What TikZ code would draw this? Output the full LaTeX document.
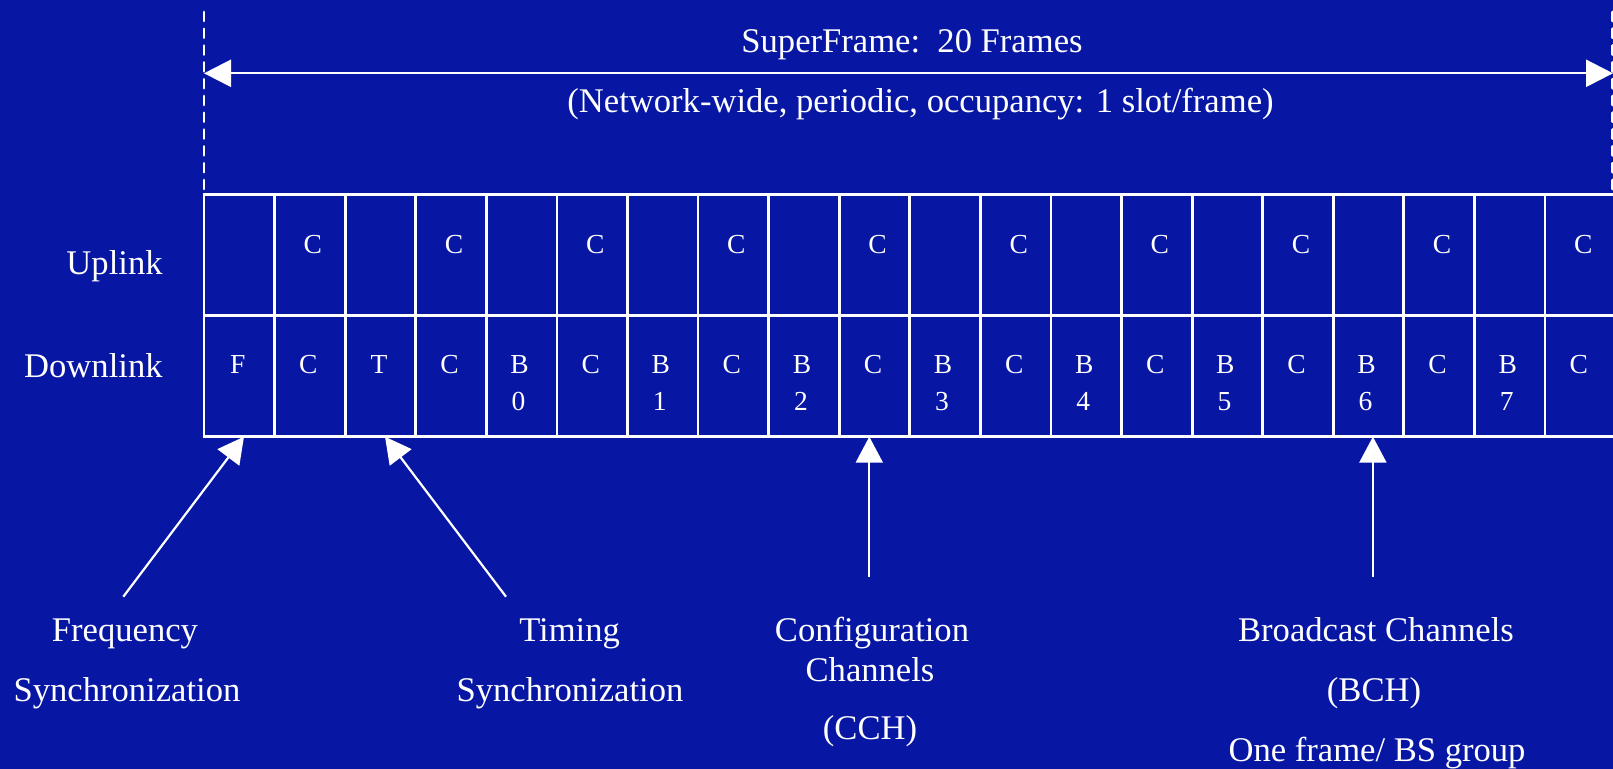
\documentclass[tikz,border=0pt]{standalone}
\usepackage{fontspec}
\setmainfont{Liberation Serif}
\usetikzlibrary{arrows.meta}
\definecolor{bgblue}{RGB}{7,23,163}
\begin{document}
\begin{tikzpicture}[x=0.5pt,y=-0.5pt,
  lbl/.style={text=white,font=\fontsize{17.3}{20}\selectfont,inner sep=0pt,anchor=base},
  cellt/.style={text=white,font=\fontsize{13.75}{16}\selectfont,inner sep=0pt,anchor=base},
  cell/.style={draw=white,line width=1.4pt,minimum width=35.29pt,minimum height=60.5pt,inner sep=0pt,outer sep=0pt},
  pointer/.style={white,line width=1.1pt,-{Triangle[length=13pt,width=13.5pt]}},
  span/.style={white,line width=1.2pt,{Triangle[length=13.5pt,width=13.5pt]}-{Triangle[length=13.5pt,width=13.5pt]}},
  dashv/.style={white,line width=1.35pt,line cap=round,dash pattern=on 4.5pt off 3.9pt}]
\useasboundingbox (0,0) rectangle (1613,769);
\fill[bgblue] (0,0) rectangle (1613,769);
\clip (0,0) rectangle (1613,769);

% dashed limits and span arrow
\coordinate (dtl) at (204,12);
\coordinate (dbl) at (204,194.5);
\coordinate (dtr) at (1612.5,12);
\coordinate (dbr) at (1612.5,194.5);
\draw[dashv] (dtl) -- (dbl);
\draw[dashv] (dtr) -- (dbr);
\coordinate (sl) at (204,73.3);
\coordinate (sr) at (1613,73.3);
\draw[span] (sl) -- (sr);

\node[lbl] (title) at (912,52.3) {SuperFrame:\ \ 20 Frames};
\node[lbl] (sub) at (920.5,112.7) {(Network-wide, periodic, occupancy: 1 slot/frame)};

% grid
\foreach \k in {0,...,19}{
  \node[cell] (up\k) at ({204+70.58*(\k+0.5)},255) {};
  \node[cell] (dn\k) at ({204+70.58*(\k+0.5)},376) {};
}
\foreach \k in {1,3,...,19}{
  \node[cellt] (uc\k) at ({204+70.58*(\k+0.5)+3},254) {C};
  \node[cellt] (dc\k) at ({204+70.58*(\k+0.5)-1.5},374) {C};
}
\node[cellt] (dF) at ({204+70.58*0.5-1.5},374) {F};
\node[cellt] (dT) at ({204+70.58*2.5-1.5},374) {T};
\foreach \k/\n in {4/0,6/1,8/2,10/3,12/4,14/5,16/6,18/7}{
  \node[cellt] (db\k) at ({204+70.58*(\k+0.5)-2},374) {B};
  \node[cellt] (dd\k) at ({204+70.58*(\k+0.5)-3},410.5) {\n};
}

\node[lbl,anchor=base east] (uplbl) at (163,275) {Uplink};
\node[lbl,anchor=base east] (dnlbl) at (163,378) {Downlink};

% bottom labels
\node[lbl] (freqA) at (125,641.7) {Frequency};
\node[lbl] (freqB) at (127,701.7) {Synchronization};
\node[lbl] (timA) at (569.6,641.7) {Timing};
\node[lbl] (timB) at (570,701.7) {Synchronization};
\node[lbl] (cfgA) at (872,641.7) {Configuration};
\node[lbl] (cfgB) at (870,681.7) {Channels};
\node[lbl] (cfgC) at (870,740) {(CCH)};
\node[lbl] (bcA) at (1376,641.7) {Broadcast Channels};
\node[lbl] (bcB) at (1374,701.7) {(BCH)};
\node[lbl] (bcC) at (1377,761.7) {One frame/ BS group};

% pointers
\coordinate (f0) at (123.3,596.7); \coordinate (f1) at (244,436.7);
\coordinate (t0) at (506,596.7);   \coordinate (t1) at (385,436.7);
\coordinate (c0) at (869.3,576.7); \coordinate (c1) at (869.3,436.7);
\coordinate (b0) at (1372.9,576.7); \coordinate (b1) at (1372.9,436.7);
\draw[pointer] (f0) -- (f1);
\draw[pointer] (t0) -- (t1);
\draw[pointer] (c0) -- (c1);
\draw[pointer] (b0) -- (b1);
\end{tikzpicture}
\end{document}
